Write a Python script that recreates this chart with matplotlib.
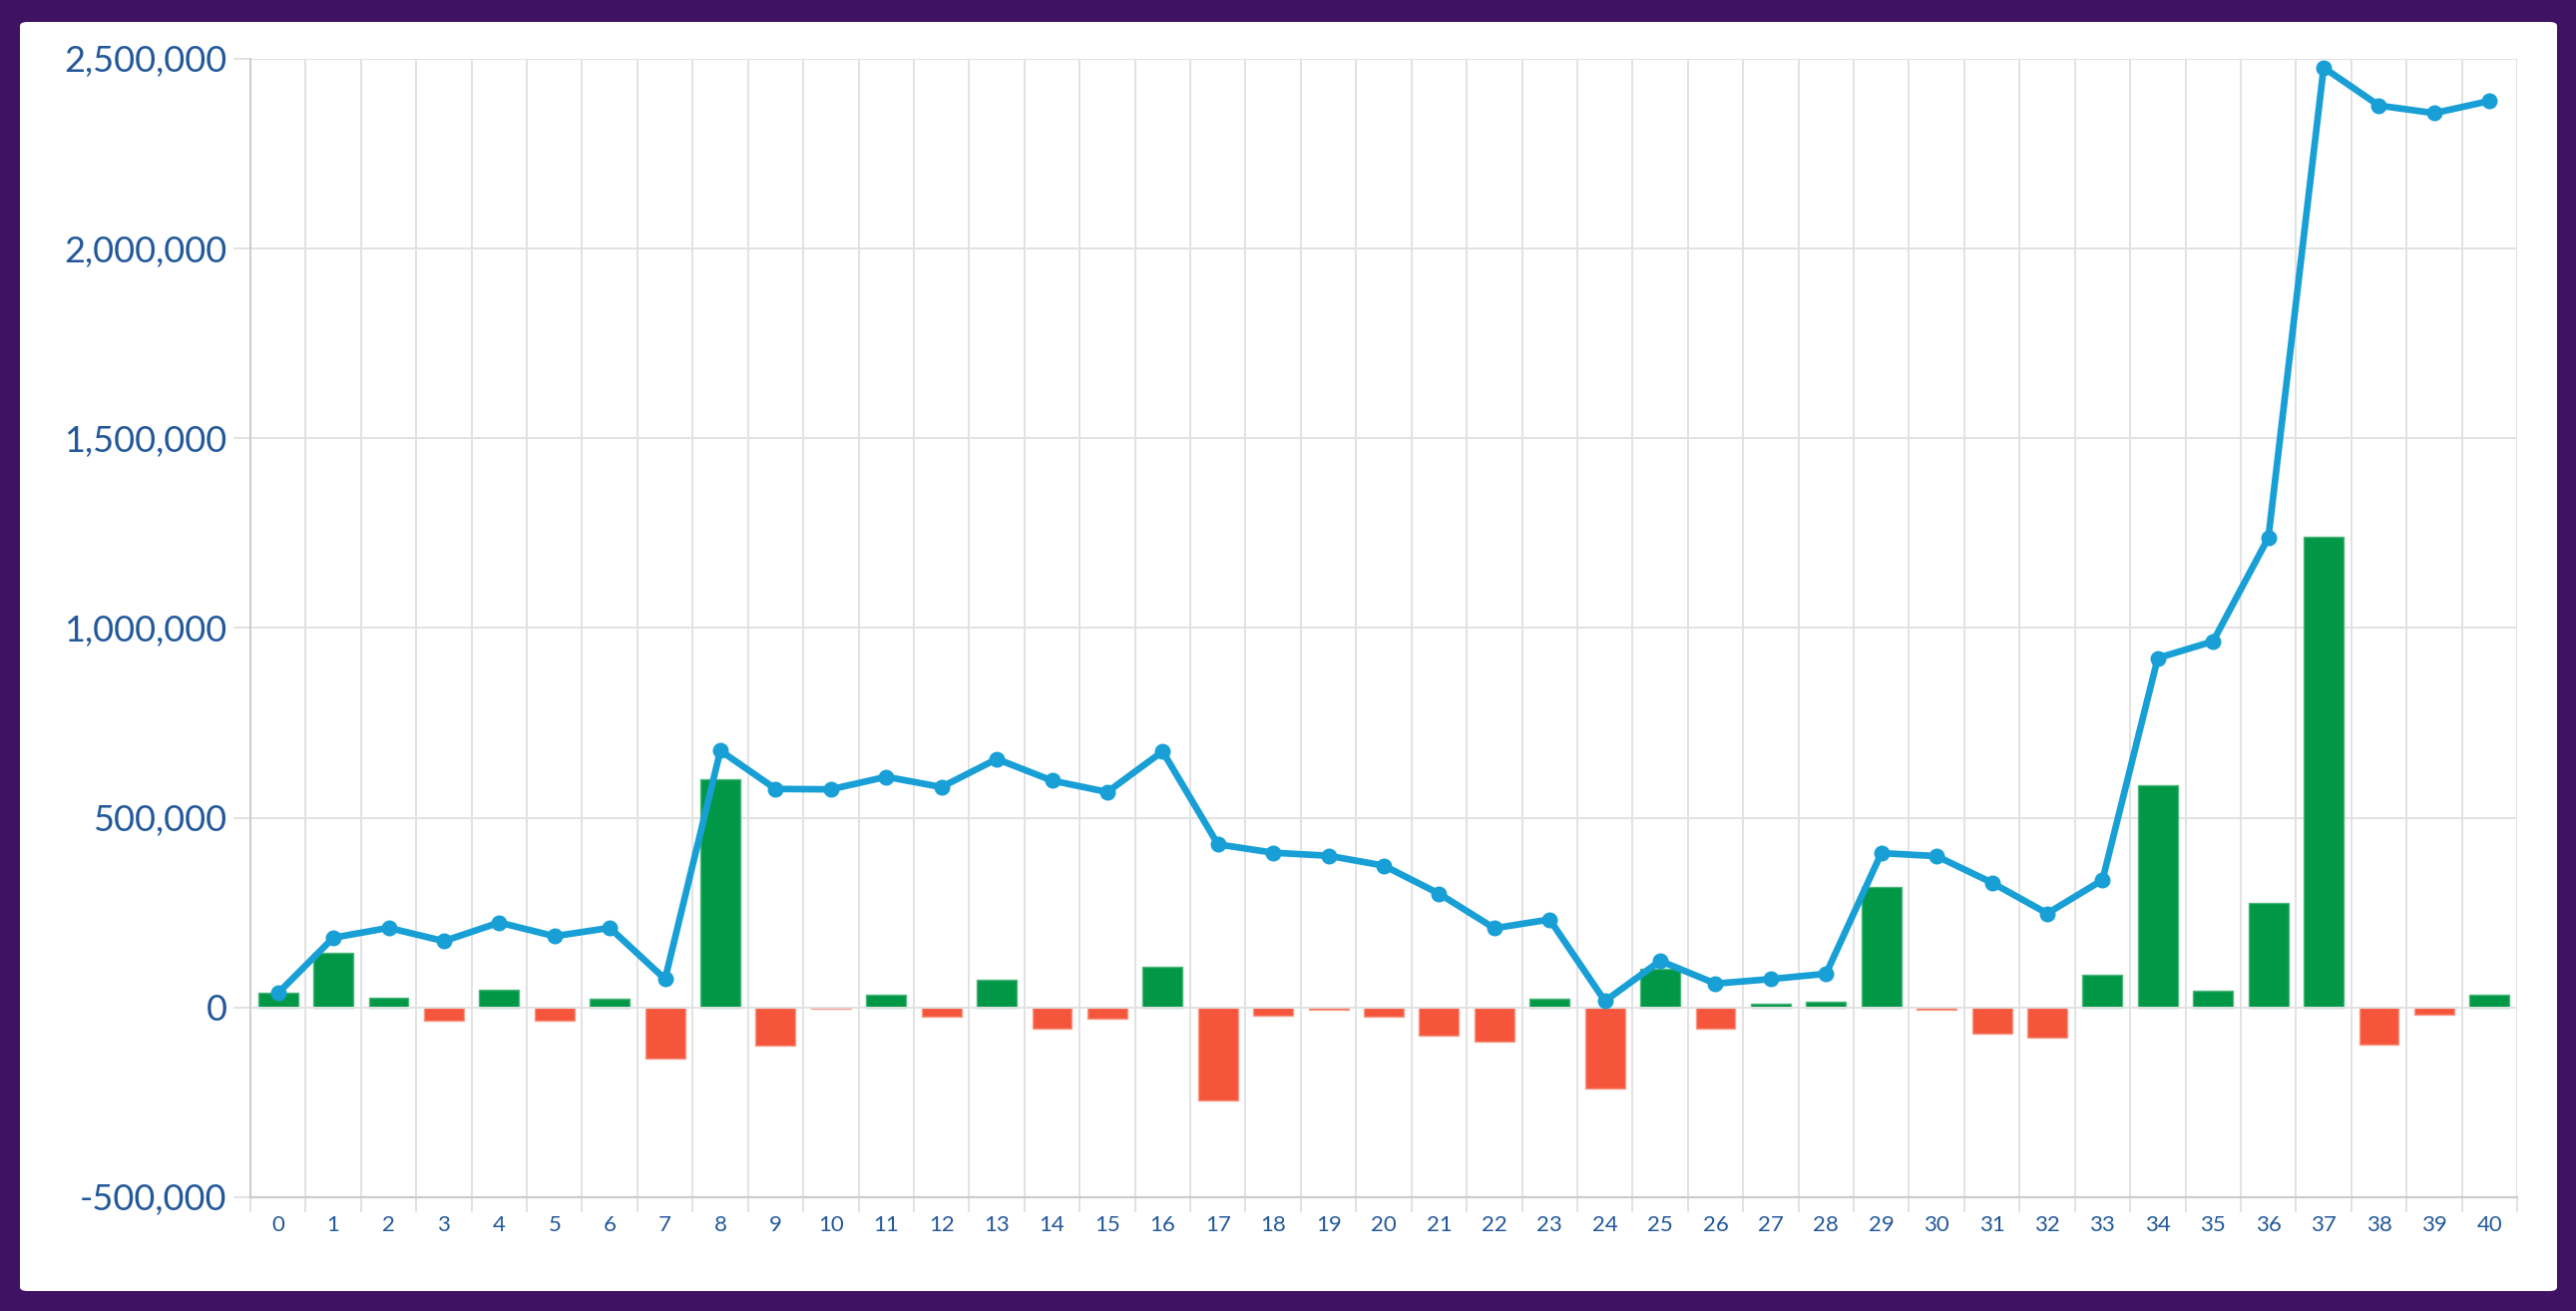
import matplotlib
matplotlib.use("Agg")
import matplotlib.pyplot as plt
from matplotlib.patches import FancyBboxPatch
from matplotlib.ticker import FuncFormatter, FixedLocator
import numpy as np

plt.rcParams['font.family'] = ['Lato', 'DejaVu Sans']

categories = ["0", "1", "2", "3", "4", "5", "6", "7", "8", "9", "10",
              "11", "12", "13", "14", "15", "16", "17", "18", "19", "20",
              "21", "22", "23", "24", "25", "26", "27", "28", "29", "30",
              "31", "32", "33", "34", "35", "36", "37", "38", "39", "40"]

net_change = [38000, 145000, 27000, -34000, 47000, -35000, 23000, -135000, 602000, -100000,
              -2000, 33000, -25000, 73000, -56000, -29000, 107000, -244000, -21000, -7000,
              -25000, -75000, -89000, 24000, -214000, 103000, -56000, 11000, 16000, 317000,
              -5000, -70000, -79000, 87000, 587000, 44000, 275000, 1240000, -99000, -18000,
              33000]

balance = [38000, 184000, 210000, 175000, 224000, 188000, 210000, 75000, 677000, 576000,
           575000, 608000, 581000, 655000, 598000, 568000, 675000, 430000, 408000, 400000,
           374000, 300000, 209000, 232000, 17000, 123000, 63000, 75000, 89000, 407000,
           399000, 329000, 248000, 336000, 921000, 965000, 1238000, 2477000, 2377000, 2357000,
           2389000]

y_ticks = [-500000, 0, 500000, 1000000, 1500000, 2000000, 2500000]

PURPLE = '#401264'
GREEN = '#009846'
GREEN_EDGE = '#4db67c'
RED = '#f5563b'
RED_EDGE = '#f89a88'
BLUE = '#179fd6'
GRID = '#e2e2e2'
AXIS = '#cccccc'
LABEL = '#22589a'

W, H = 2582, 1314
DPI = 100
fig = plt.figure(figsize=(W / DPI, H / DPI), dpi=DPI, facecolor=PURPLE)

# white rounded panel
panel = FancyBboxPatch((20 / W, 20 / H), (2563 - 20) / W, (1292 - 20) / H,
                       boxstyle="round,pad=0,rounding_size=0.003",
                       transform=fig.transFigure, facecolor='white', edgecolor='none', zorder=-10)
fig.patches.append(panel)

left, right = 251 / W, 2523 / W
top, bottom = 1 - 59 / H, 1 - 1200 / H
ax = fig.add_axes([left, bottom, right - left, top - bottom])
ax.set_zorder(1)
ax.set_facecolor('none')

x = np.arange(len(categories))
colors = [GREEN if v >= 0 else RED for v in net_change]
edges = [GREEN_EDGE if v >= 0 else RED_EDGE for v in net_change]
ax.bar(x, net_change, width=0.72, color=colors, edgecolor=edges, linewidth=1.0, zorder=2)

ax.plot(x, balance, color=BLUE, linewidth=4.8, marker='o', markersize=10.5,
        markerfacecolor=BLUE, markeredgecolor=BLUE, zorder=4, solid_joinstyle='round')

ax.set_xlim(-0.5, len(categories) - 0.5)
ax.set_ylim(-500000, 2500000)

# x ticks: labels at centers, grid/ticks at boundaries
ax.set_xticks(x)
ax.set_xticklabels(categories)
ax.xaxis.set_minor_locator(FixedLocator(np.arange(-0.5, len(categories), 1.0)))
ax.tick_params(axis='x', which='major', length=0, pad=13, labelsize=16, labelcolor=LABEL)
ax.tick_params(axis='x', which='minor', length=11, width=1.4, color=GRID)
ax.grid(True, axis='x', which='minor', color=GRID, linewidth=1.4, zorder=1)
ax.grid(False, axis='x', which='major')

ax.set_yticks(y_ticks)
ax.yaxis.set_major_formatter(FuncFormatter(lambda v, p: f"{int(round(v)):,}"))
ax.tick_params(axis='y', which='major', length=12, width=1.4, color=GRID, pad=5,
               labelsize=26, labelcolor=LABEL)
ax.grid(True, axis='y', which='major', color=GRID, linewidth=1.4, zorder=1)
ax.set_axisbelow(True)

# zero line over bars
ax.axhline(0, color=GRID, linewidth=1.4, zorder=3)

for s in ['top', 'right']:
    ax.spines[s].set_visible(False)
ax.spines['left'].set_color(AXIS)
ax.spines['left'].set_linewidth(1.4)
ax.spines['bottom'].set_color(AXIS)
ax.spines['bottom'].set_linewidth(1.6)

fig.savefig('out.png', dpi=DPI, facecolor=PURPLE)
